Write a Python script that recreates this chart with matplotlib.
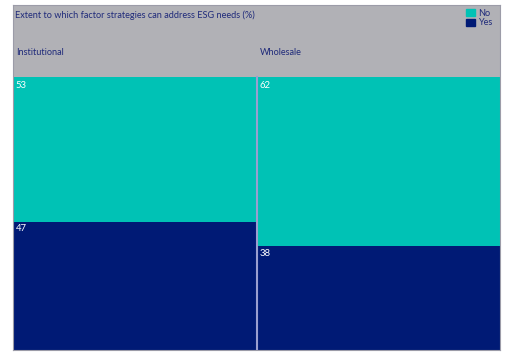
import numpy as np
import matplotlib.pyplot as plt
from matplotlib.patches import Rectangle

title = "Extent to which factor strategies can address ESG needs (%)"
groups = ["Institutional", "Wholesale"]
series = ["No", "Yes"]
no_vals = [53, 62]
yes_vals = [47, 38]

teal = "#00C2B5"
navy = "#001A75"
grey = "#B1B1B6"
txt = "#1F2A7A"

plt.rcParams['font.family'] = ['Lato', 'DejaVu Sans']

fig = plt.figure(figsize=(5.2, 3.6), dpi=100)
fig.patch.set_facecolor("white")
ax = fig.add_axes([13/520, 1-350/360, (500-13)/520, (350-5)/360])
ax.set_facecolor(grey)

top = 100*345/273  # leave room for the header band

x = np.arange(len(groups)) + 0.5
# Yes on the bottom, No stacked above
ax.bar(x, yes_vals, width=1.0, color=navy, linewidth=0)
ax.bar(x, no_vals, width=1.0, bottom=yes_vals, color=teal, linewidth=0)
ax.axvline(1.0, ymax=100/top, color="#9A9FD0", lw=1.5)

ax.set_xlim(0, 2)
ax.set_ylim(0, top)
ax.set_xticks([])
ax.set_yticks([])
for s in ax.spines.values():
    s.set_color("#9C9CA8")
    s.set_linewidth(0.8)

for i, g in enumerate(groups):
    ax.text(i + 0.012, 108.8, g, color=txt, fontsize=6.6, va="center", ha="left")
    ax.text(i + 0.012, 100 - 1.3, str(no_vals[i]), color="white", fontsize=6.8, va="top", ha="left")
    ax.text(i + 0.012, yes_vals[i] - 1.0, str(yes_vals[i]), color="white", fontsize=6.8, va="top", ha="left")

ax.text(0.005, 0.985, title, transform=ax.transAxes, color=txt, fontsize=6.6, va="top", ha="left")

handles = [Rectangle((0, 0), 1, 1, color=teal), Rectangle((0, 0), 1, 1, color=navy)]
leg = ax.legend(handles, series, loc="upper right", bbox_to_anchor=(1.0, 1.01), frameon=False,
                fontsize=6.6, handlelength=1.0, handleheight=0.8, handletextpad=0.4,
                labelspacing=0.05, borderpad=0.3)
for t in leg.get_texts():
    t.set_color(txt)

fig.savefig("out.png", dpi=100)
